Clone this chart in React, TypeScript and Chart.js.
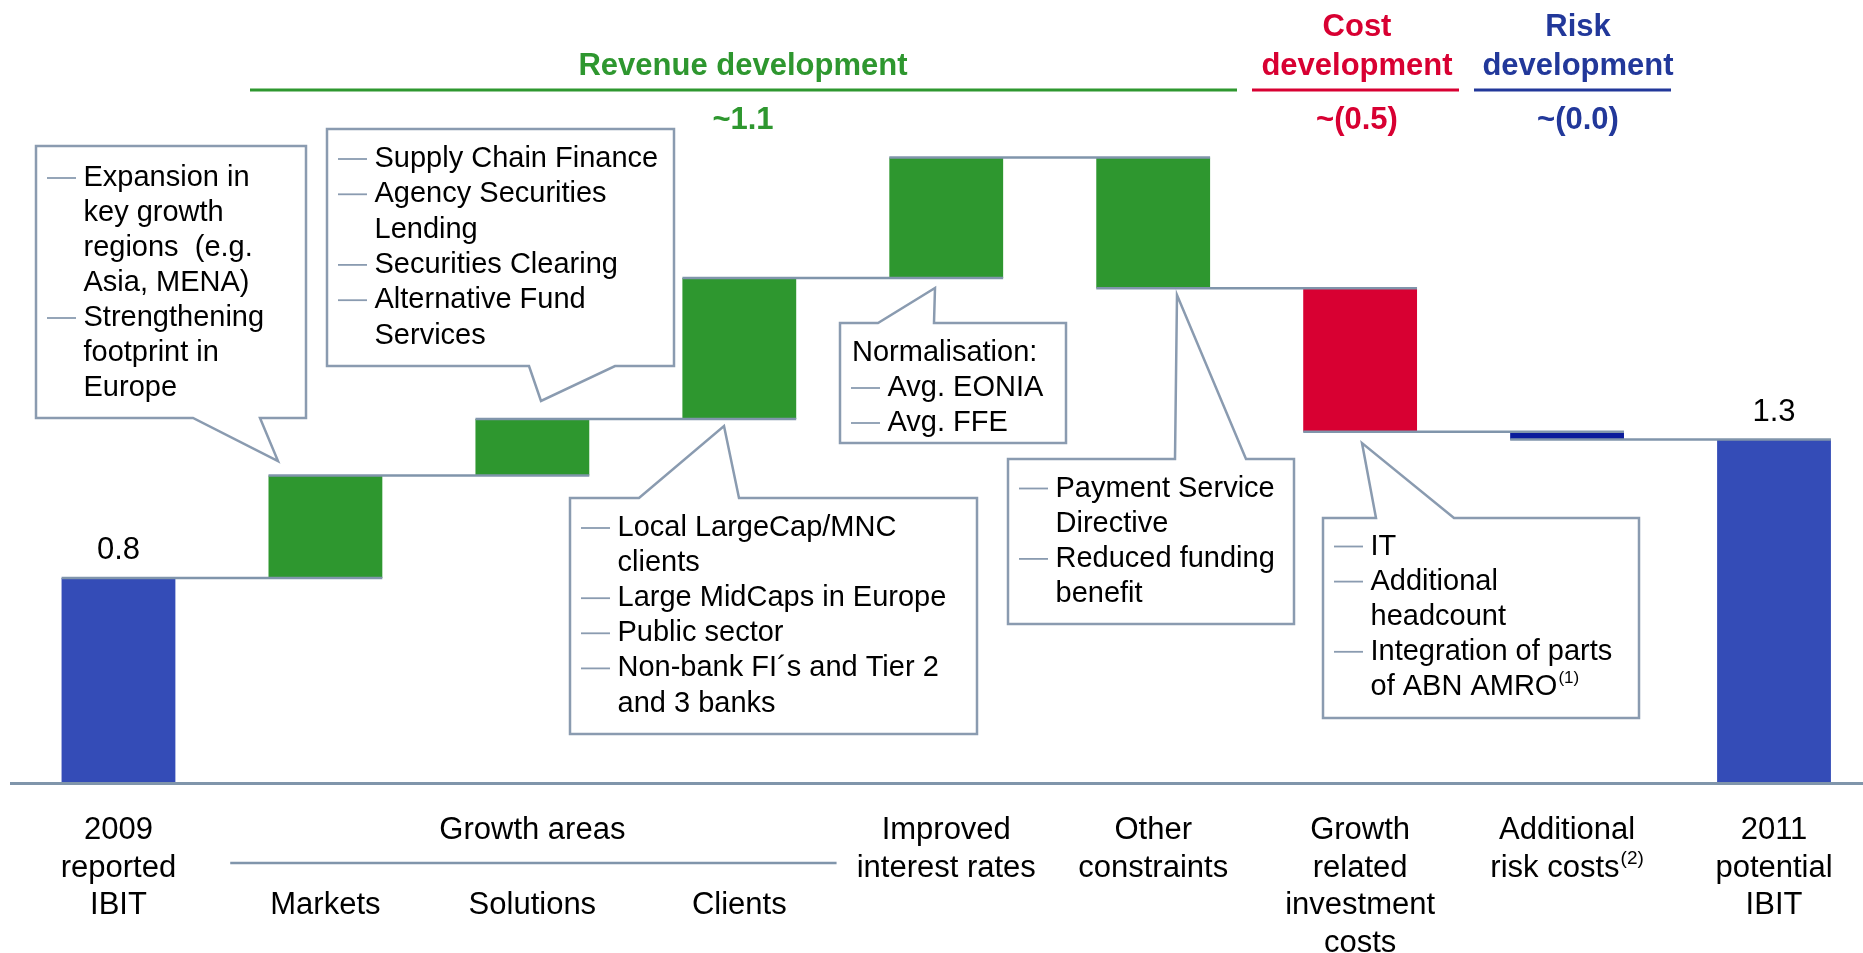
import React, { useEffect, useRef } from "react";
import { Chart, registerables } from "chart.js";

Chart.register(...registerables);

// ---------------- DATA ----------------
const categories = [
  "2009 reported IBIT",
  "Markets",
  "Solutions",
  "Clients",
  "Improved interest rates",
  "Other constraints",
  "Growth related investment costs",
  "Additional risk costs",
  "2011 potential IBIT",
];
const deltas = [0.8, 0.4, 0.22, 0.55, 0.47, -0.51, -0.56, -0.03, 1.34];
const totalFlags = [true, false, false, false, false, false, false, false, true];
const valueLabels = ["0.8", "", "", "", "", "", "", "", "1.3"];
const axisLabelLines = [
  ["2009", "reported", "IBIT"],
  ["", "", "Markets"],
  ["", "", "Solutions"],
  ["", "", "Clients"],
  ["Improved", "interest rates"],
  ["Other", "constraints"],
  ["Growth", "related", "investment", "costs"],
  ["Additional", "risk costs"],
  ["2011", "potential", "IBIT"],
];
const axisLabelSup = ["", "", "", "", "", "", "", "(2)", ""];
const groupLabel = "Growth areas";
const sectionTitles = [["Revenue development"], ["Cost", "development"], ["Risk", "development"]];
const sectionValues = ["~1.1", "~(0.5)", "~(0.0)"];

// ---------------- STYLE ----------------
const BLUE = "#344CB7";
const GREEN = "#2E972F";
const RED = "#D80032";
const NAVY = "#0A1B9B";
const NAVY_TEXT = "#22389A";
const GRAY = "#8095AB";
const BOX = "#8A9BB0";
const FONT = '"Liberation Sans", Arial, sans-serif';
const barColors = [BLUE, GREEN, GREEN, GREEN, GREEN, GREEN, RED, NAVY, BLUE];
const sectionColors = [GREEN, RED, NAVY_TEXT];

type Line = { t: string; d?: boolean; plain?: boolean; sup?: string };
type Callout = {
  box: [number, number, number, number];
  side: "top" | "bottom";
  base: [number, number];
  tip: [number, number];
  y0: number;
  dy: number;
  lines: Line[];
};

const callouts: Callout[] = [
  {
    box: [36, 146, 306, 418], side: "bottom", base: [193, 260], tip: [278, 461], y0: 178, dy: 35,
    lines: [
      { t: "Expansion in", d: true }, { t: "key growth" }, { t: "regions  (e.g." }, { t: "Asia, MENA)" },
      { t: "Strengthening", d: true }, { t: "footprint in" }, { t: "Europe" },
    ],
  },
  {
    box: [327, 129, 674, 366], side: "bottom", base: [529, 615], tip: [541, 401], y0: 159, dy: 35.3,
    lines: [
      { t: "Supply Chain Finance", d: true }, { t: "Agency Securities", d: true }, { t: "Lending" },
      { t: "Securities Clearing", d: true }, { t: "Alternative Fund", d: true }, { t: "Services" },
    ],
  },
  {
    box: [570, 498, 977, 734], side: "top", base: [639, 739], tip: [724, 426], y0: 528, dy: 35.1,
    lines: [
      { t: "Local LargeCap/MNC", d: true }, { t: "clients" }, { t: "Large MidCaps in Europe", d: true },
      { t: "Public sector", d: true }, { t: "Non-bank FI\u00B4s and Tier 2", d: true }, { t: "and 3 banks" },
    ],
  },
  {
    box: [840, 323, 1066, 443], side: "top", base: [878, 934], tip: [935, 288], y0: 353, dy: 35,
    lines: [{ t: "Normalisation:", plain: true }, { t: "Avg. EONIA", d: true }, { t: "Avg. FFE", d: true }],
  },
  {
    box: [1008, 459, 1294, 624], side: "top", base: [1175, 1246], tip: [1177, 295], y0: 488.5, dy: 35.2,
    lines: [{ t: "Payment Service", d: true }, { t: "Directive" }, { t: "Reduced funding", d: true }, { t: "benefit" }],
  },
  {
    box: [1323, 518, 1639, 718], side: "top", base: [1376, 1454], tip: [1362, 443], y0: 546.5, dy: 35.1,
    lines: [
      { t: "IT", d: true }, { t: "Additional", d: true }, { t: "headcount" },
      { t: "Integration of parts", d: true }, { t: "of ABN AMRO", sup: "(1)" },
    ],
  },
];

// header layout (pixels)
const sectionLines = [[250, 1237], [1252, 1459], [1474, 1671]];
const sectionCenters = [743, 1357, 1578];

function runningLevels(): number[] {
  const out: number[] = [];
  let run = 0;
  deltas.forEach((d, i) => {
    run = totalFlags[i] ? d : run + d;
    out.push(run);
  });
  return out;
}

function drawTextSup(ctx: CanvasRenderingContext2D, main: string, sup: string, x: number, y: number, size: number, align: "left" | "center") {
  ctx.font = `${size}px ${FONT}`;
  const wMain = ctx.measureText(main).width;
  const supSize = Math.round(size * 0.6);
  ctx.font = `${supSize}px ${FONT}`;
  const wSup = sup ? ctx.measureText(sup).width + 1 : 0;
  const start = align === "center" ? x - (wMain + wSup) / 2 : x;
  ctx.textAlign = "left";
  ctx.textBaseline = "middle";
  ctx.font = `${size}px ${FONT}`;
  ctx.fillText(main, start, y);
  if (sup) {
    ctx.font = `${supSize}px ${FONT}`;
    ctx.fillText(sup, start + wMain + 1, y - size * 0.3);
  }
}

const decorPlugin = {
  id: "waterfallDecor",
  afterDatasetsDraw(chart: any) {
    const ctx: CanvasRenderingContext2D = chart.ctx;
    const meta = chart.getDatasetMeta(0);
    const xs = chart.scales.x;
    const ys = chart.scales.y;
    const levels = runningLevels();
    ctx.save();

    // connectors
    ctx.strokeStyle = GRAY;
    ctx.lineWidth = 2.5;
    for (let i = 0; i < levels.length - 1; i++) {
      const a = meta.data[i].getProps(["x", "width"], true);
      const b = meta.data[i + 1].getProps(["x", "width"], true);
      const y = ys.getPixelForValue(levels[i]);
      ctx.beginPath();
      ctx.moveTo(a.x - a.width / 2, y);
      ctx.lineTo(b.x + b.width / 2, y);
      ctx.stroke();
    }

    // baseline
    const y0 = ys.getPixelForValue(0);
    ctx.lineWidth = 3;
    ctx.beginPath();
    ctx.moveTo(10, y0 + 0.5);
    ctx.lineTo(chart.width, y0 + 0.5);
    ctx.stroke();

    // value labels
    ctx.fillStyle = "#000";
    ctx.font = `31px ${FONT}`;
    ctx.textAlign = "center";
    ctx.textBaseline = "middle";
    valueLabels.forEach((lab, i) => {
      if (!lab) return;
      const x = xs.getPixelForValue(i);
      ctx.fillText(lab, x, ys.getPixelForValue(levels[i]) - 27);
    });

    // axis labels
    const lineY = [830, 868, 905.5, 943];
    axisLabelLines.forEach((lines, i) => {
      const x = xs.getPixelForValue(i);
      lines.forEach((ln, k) => {
        if (!ln) return;
        const isLast = k === lines.length - 1;
        drawTextSup(ctx, ln, isLast ? axisLabelSup[i] : "", x, lineY[k], 31, "center");
      });
    });
    // group header
    const gx = xs.getPixelForValue(2);
    ctx.fillStyle = "#000";
    ctx.font = `31px ${FONT}`;
    ctx.textAlign = "center";
    ctx.fillText(groupLabel, gx, lineY[0]);
    ctx.strokeStyle = GRAY;
    ctx.lineWidth = 2.5;
    ctx.beginPath();
    ctx.moveTo(xs.getPixelForValue(0.54), 863);
    ctx.lineTo(xs.getPixelForValue(3.47), 863);
    ctx.stroke();

    // section headers
    sectionTitles.forEach((title, s) => {
      const c = sectionCenters[s];
      ctx.fillStyle = sectionColors[s];
      ctx.font = `bold 31px ${FONT}`;
      ctx.textAlign = "center";
      ctx.textBaseline = "middle";
      const ys2 = title.length === 2 ? [27, 66] : [66];
      title.forEach((t, k) => ctx.fillText(t, c, ys2[k]));
      ctx.fillText(sectionValues[s], c, 120);
      ctx.strokeStyle = sectionColors[s];
      ctx.lineWidth = 3;
      ctx.beginPath();
      ctx.moveTo(sectionLines[s][0], 90);
      ctx.lineTo(sectionLines[s][1], 90);
      ctx.stroke();
    });

    // callouts
    callouts.forEach((c) => {
      const [L, T, R, B] = c.box;
      ctx.beginPath();
      if (c.side === "bottom") {
        ctx.moveTo(L, T);
        ctx.lineTo(R, T);
        ctx.lineTo(R, B);
        ctx.lineTo(c.base[1], B);
        ctx.lineTo(c.tip[0], c.tip[1]);
        ctx.lineTo(c.base[0], B);
        ctx.lineTo(L, B);
      } else {
        ctx.moveTo(L, T);
        ctx.lineTo(c.base[0], T);
        ctx.lineTo(c.tip[0], c.tip[1]);
        ctx.lineTo(c.base[1], T);
        ctx.lineTo(R, T);
        ctx.lineTo(R, B);
        ctx.lineTo(L, B);
      }
      ctx.closePath();
      ctx.fillStyle = "#fff";
      ctx.fill();
      ctx.strokeStyle = BOX;
      ctx.lineWidth = 2.5;
      ctx.lineJoin = "miter";
      ctx.stroke();

      c.lines.forEach((ln, k) => {
        const y = c.y0 + k * c.dy;
        if (ln.d) {
          ctx.strokeStyle = BOX;
          ctx.lineWidth = 1.8;
          ctx.beginPath();
          ctx.moveTo(L + 11, y);
          ctx.lineTo(L + 40, y);
          ctx.stroke();
        }
        ctx.fillStyle = "#000";
        const tx = ln.plain ? L + 12 : L + 47.5;
        drawTextSup(ctx, ln.t, ln.sup || "", tx, y, 29, "left");
      });
    });

    ctx.restore();
  },
};

export default function App() {
  const ref = useRef<HTMLCanvasElement | null>(null);
  useEffect(() => {
    if (!ref.current) return;
    const levels = runningLevels();
    const points = categories.map((_, i) => {
      const end = levels[i];
      const start = totalFlags[i] ? 0 : end - deltas[i];
      return { x: i, y: [Math.min(start, end), Math.max(start, end)] };
    });
    const chart = new Chart(ref.current, {
      type: "bar",
      data: {
        datasets: [
          {
            label: "IBIT bridge",
            data: points as any,
            backgroundColor: barColors,
            borderWidth: 0,
            barPercentage: 0.55,
            categoryPercentage: 1,
          },
        ],
      },
      options: {
        animation: false,
        responsive: true,
        maintainAspectRatio: false,
        layout: { padding: { left: 15, right: 0, top: 14, bottom: 170 } },
        plugins: { legend: { display: false }, tooltip: { enabled: false } },
        scales: {
          x: {
            type: "linear",
            min: -0.5,
            max: 8.43,
            offset: false,
            display: false,
            afterBuildTicks: (scale: any) => {
              scale.ticks = categories.map((_, i) => ({ value: i }));
            },
          },
          y: { min: 0, max: 3, display: false },
        },
      },
      plugins: [decorPlugin],
    });
    return () => chart.destroy();
  }, []);
  return (
    <div style={{ position: "absolute", left: 0, top: 0, width: 1863, height: 953, background: "#fff" }}>
      <canvas ref={ref} />
    </div>
  );
}
